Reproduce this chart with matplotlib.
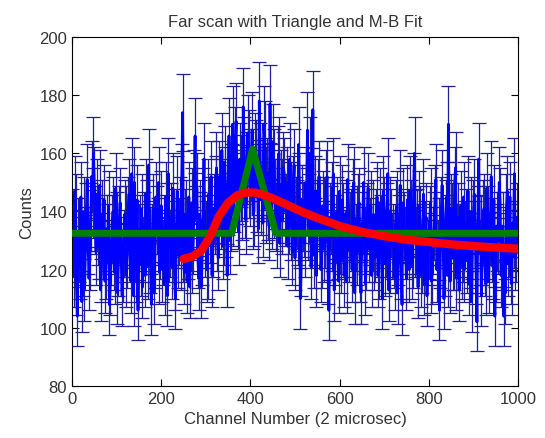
import numpy as np
import matplotlib.pyplot as plt

plt.rcParams['font.family'] = ['Liberation Sans', 'DejaVu Sans']

# raw counts, one reading every 2 channels
channel_step = 2
counts = [
    136, 129, 118, 147, 141, 115, 104, 133, 127, 121, 145, 109, 122, 140, 113, 126, 138, 151, 130, 117,
    124, 138, 152, 143, 160, 150, 137, 126, 146, 133, 128, 149, 113, 120, 139, 128, 144, 116, 121, 134,
    131, 142, 108, 115, 126, 134, 140, 124, 119, 148, 135, 112, 122, 137, 143, 127, 111, 120, 129, 139,
    137, 118, 125, 140, 146, 129, 116, 153, 132, 111, 150, 127, 120, 144, 106, 131, 134, 122, 141, 114,
    127, 135, 118, 146, 139, 121, 156, 130, 123, 108, 131, 141, 112, 125, 145, 137, 133, 150, 119, 128,
    142, 120, 126, 134, 115, 145, 138, 111, 153, 127, 129, 138, 121, 148, 136, 117, 110, 132, 147, 125,
    133, 140, 124, 151, 174, 127, 119, 136, 139, 116, 128, 145, 114, 131, 143, 123, 130, 149, 166, 137,
    148, 125, 117, 139, 135, 114, 126, 143, 158, 129, 132, 120, 121, 146, 140, 134, 152, 118, 129, 141,
    137, 147, 155, 131, 124, 152, 146, 139, 161, 128, 133, 157, 150, 136, 118, 144, 166, 130, 138, 151,
    170, 140, 145, 163, 171, 148, 139, 133, 158, 154, 149, 142, 176, 160, 143, 137, 155, 167, 162, 150,
    147, 156, 168, 139, 140, 161, 159, 145, 151, 134, 178, 158, 144, 149, 136, 170, 165, 141, 150, 153,
    142, 135, 177, 151, 139, 164, 156, 143, 146, 138, 132, 157, 160, 129, 149, 146, 137, 155, 153, 140,
    141, 150, 128, 137, 158, 145, 135, 126, 147, 156, 124, 140, 139, 133, 163, 148, 110, 122, 144, 138,
    136, 129, 150, 144, 168, 135, 141, 160, 121, 132, 175, 125, 133, 147, 118, 139, 146, 152, 138, 120,
    125, 142, 140, 127, 132, 149, 152, 119, 106, 138, 137, 131, 145, 153, 113, 126, 134, 140, 128, 116,
    147, 130, 123, 144, 138, 118, 129, 139, 116, 151, 142, 127, 135, 136, 120, 146, 150, 112, 131, 137,
    126, 141, 143, 120, 112, 135, 137, 150, 130, 115, 124, 138, 148, 127, 133, 142, 118, 131, 139, 124,
    127, 136, 145, 118, 121, 143, 134, 129, 110, 147, 140, 122, 129, 138, 153, 113, 123, 140, 136, 128,
    131, 125, 117, 139, 142, 112, 126, 134, 149, 121, 108, 143, 135, 130, 128, 117, 144, 136, 120, 147,
    139, 121, 125, 148, 160, 129, 130, 136, 114, 142, 137, 118, 123, 131, 146, 115, 132, 138, 111, 126,
    128, 137, 143, 116, 119, 130, 135, 144, 151, 120, 126, 133, 106, 125, 140, 149, 133, 110, 122, 139,
    145, 118, 170, 134, 116, 141, 138, 124, 124, 150, 155, 117, 131, 138, 113, 129, 142, 121, 127, 145,
    120, 132, 136, 123, 147, 115, 125, 140, 109, 128, 139, 146, 132, 119, 102, 137, 158, 126, 134, 111,
    126, 139, 141, 122, 115, 148, 137, 116, 128, 133, 152, 127, 121, 144, 104, 120, 135, 131, 130, 150,
    143, 118, 124, 135, 104, 128, 112, 141, 147, 122, 129, 145, 119, 115, 136, 132, 153, 124, 127, 138,
    131,
]

# triangle fit
tri_x = [0, 358, 405, 457, 1000]
tri_y = [132.5, 132.5, 161.5, 132.5, 132.5]

# Maxwell-Boltzmann fit
mb_x = [250, 270, 290, 310, 330, 350, 370, 390, 410, 430, 450, 475, 500,
        525, 550, 600, 650, 700, 750, 800, 850, 900, 950, 1000]
mb_y = [123.7, 124.5, 126.5, 131.5, 138.5, 143.0, 145.5, 146.5, 146.5,
        145.7, 144.5, 142.8, 141.0, 139.3, 137.8, 135.0, 133.0, 131.5,
        130.3, 129.5, 128.7, 128.1, 127.6, 127.2]

channels = np.arange(len(counts)) * channel_step
errors = np.sqrt(counts)  # poisson errors

fig = plt.figure(figsize=(5.45, 4.39), dpi=100)
ax = fig.add_axes([0.1321, 0.1185, 0.8183, 0.795])

ax.errorbar(channels, counts, yerr=errors, color='#0000ff', ecolor='#1f1f99',
            lw=2.0, elinewidth=0.9, capsize=5, capthick=0.9, zorder=2)
ax.plot(tri_x, tri_y, color='#008000', lw=5, zorder=3)
ax.plot(mb_x, mb_y, color='#ff0000', lw=6, solid_capstyle='round',
        solid_joinstyle='round', zorder=4)

ax.set_xlim(0, 1000)
ax.set_ylim(80, 200)
ax.set_xticks([0, 200, 400, 600, 800, 1000])
ax.set_yticks([80, 100, 120, 140, 160, 180, 200])
ax.tick_params(direction='in', top=True, right=True, length=5, labelsize=12,
               labelcolor='#333333')
for s in ax.spines.values():
    s.set_linewidth(0.8)

ax.set_title('Far scan with Triangle and M-B Fit', fontsize=12, color='#333333', pad=8)
ax.set_xlabel('Channel Number (2 microsec)', fontsize=12, color='#333333')
ax.set_ylabel('Counts', fontsize=12, color='#333333')

fig.savefig('out.png', dpi=100)
